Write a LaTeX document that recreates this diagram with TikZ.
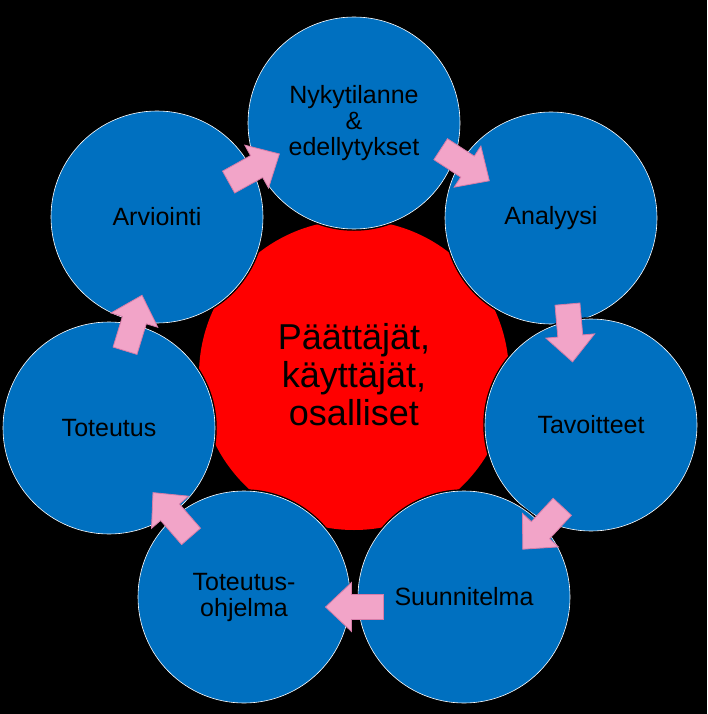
\documentclass[tikz,border=0pt]{standalone}
\usepackage{fontspec}
\setmainfont{Liberation Sans}
\usetikzlibrary{calc}
\definecolor{cblue}{RGB}{0,112,192}
\definecolor{cpink}{RGB}{242,164,200}
\definecolor{cpinkd}{RGB}{214,124,168}
\begin{document}
\begin{tikzpicture}[x=1pt,y=-1pt,
  bluecirc/.style={circle, fill=cblue, draw=white, line width=0.6pt,
    preaction={draw=black, line width=3.5pt},
    minimum size=212pt, inner sep=0pt, align=center, text=black,
    font=\fontsize{25}{26}\selectfont},
  redcirc/.style={circle, fill=red, minimum size=310pt, inner sep=0pt,
    align=center, text=black, font=\fontsize{36}{38}\selectfont},
  barrow/.pic={\draw[fill=cpink, draw=cpinkd, line width=0.8pt, line join=miter]
    (-29,-12.5) -- (3,-12.5) -- (3,-24.5) -- (29,0) -- (3,24.5) -- (3,12.5) -- (-29,12.5) -- cycle;}
]
\fill[black] (0,0) rectangle (707,714);
\useasboundingbox (0,0) rectangle (707,714);

\node[redcirc] (mid) at (354,375) {Päättäjät,\\käyttäjät,\\osalliset};

\node[bluecirc] (nyk) at (354,123) {Nykytilanne\\\&\\edellytykset};
\node[bluecirc] (ana) at (551,218) {Analyysi};
\node[bluecirc] (tav) at (591,425) {Tavoitteet};
\node[bluecirc] (suu) at (464,597) {Suunnitelma};
\node[bluecirc] (toh) at (244,597) {Toteutus-\\ohjelma};
\node[bluecirc] (tot) at (109,428) {Toteutus};
\node[bluecirc] (arv) at (157,217) {Arviointi};

\pic[rotate=29]   at ($(arv)!0.5!(nyk)+(-1.5,-2)$) {barrow};
\pic[rotate=-33]  at ($(nyk)!0.5!(ana)+(12.5,-5.5)$) {barrow};
\pic[rotate=-85]  at ($(ana)!0.5!(tav)+(-1,11.5)$) {barrow};
\pic[rotate=-133] at ($(tav)!0.5!(suu)+(15,17)$) {barrow};
\pic[rotate=180]  at ($(suu)!0.5!(toh)+(0.5,10)$) {barrow};
\pic[rotate=131]  at ($(toh)!0.5!(tot)+(-4.5,2)$) {barrow};
\pic[rotate=73]   at ($(tot)!0.5!(arv)+(0.5,0.5)$) {barrow};
\end{tikzpicture}
\end{document}
